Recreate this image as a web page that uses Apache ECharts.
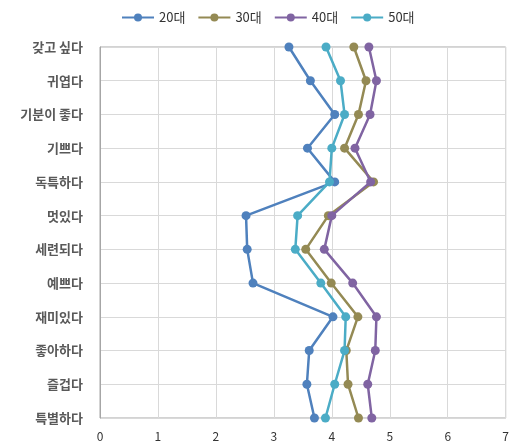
<!DOCTYPE html>
<html>
<head>
    <meta charset="utf-8">
    <title>연령대별 평가</title>
    <script src="https://cdn.jsdelivr.net/npm/echarts@6.0.0/dist/echarts.min.js"></script>
    <style>
        html, body { margin: 0; padding: 0; background: #fff; }
        #chart { width: 512px; height: 448px; }
    </style>
</head>
<body>
<div id="chart"></div>
<script>
    const categories = ['갖고 싶다', '귀엽다', '기분이 좋다', '기쁘다', '독특하다', '멋있다',
        '세련되다', '예쁘다', '재미있다', '좋아하다', '즐겁다', '특별하다'];
    const seriesNames = ['20대', '30대', '40대', '50대'];
    const colors = ['#4f81bd', '#948a54', '#8064a2', '#4bacc6'];

    const age20 = [3.26, 3.63, 4.05, 3.58, 4.05, 2.52, 2.54, 2.64, 4.02, 3.61, 3.57, 3.70];
    const age30 = [4.38, 4.59, 4.46, 4.22, 4.72, 3.94, 3.55, 3.99, 4.45, 4.25, 4.28, 4.46];
    const age40 = [4.64, 4.77, 4.66, 4.40, 4.67, 4.00, 3.87, 4.36, 4.77, 4.75, 4.62, 4.69];
    const age50 = [3.90, 4.15, 4.22, 4.00, 3.96, 3.41, 3.37, 3.81, 4.24, 4.22, 4.05, 3.89];
    const allValues = [age20, age30, age40, age50];

    const font = '"Noto Sans CJK KR", "Noto Sans", sans-serif';
    const chart = echarts.init(document.getElementById('chart'));

    const option = {
        animation: false,
        color: colors,
        textStyle: { fontFamily: font },
        legend: {
            top: 6,
            left: 116,
            itemWidth: 32,
            itemHeight: 10,
            itemGap: 12,
            textStyle: { fontSize: 13, color: '#333', fontFamily: font },
            data: seriesNames
        },
        grid: {
            left: 100, right: 3, top: 47, bottom: 30,
            show: true,
            borderColor: '#a6a6a6',
            borderWidth: 1
        },
        xAxis: {
            type: 'value',
            min: 0, max: 7, interval: 1,
            axisLine: { show: false },
            axisTick: { show: false },
            axisLabel: { color: '#333', fontSize: 12, margin: 12 },
            splitLine: { lineStyle: { color: '#d9d9d9' } }
        },
        yAxis: {
            type: 'category',
            inverse: true,
            boundaryGap: false,
            data: categories,
            axisLine: { lineStyle: { color: '#a6a6a6' } },
            axisTick: { show: false },
            axisLabel: { color: '#595959', fontSize: 13, fontWeight: 'bold', margin: 17 },
            splitLine: { show: true, lineStyle: { color: '#d9d9d9' } }
        },
        series: seriesNames.map((name, i) => ({
            name: name,
            type: 'line',
            data: allValues[i],
            symbol: 'circle',
            symbolSize: 9,
            lineStyle: { width: 2.5 }
        }))
    };
    chart.setOption(option);
</script>
</body>
</html>
